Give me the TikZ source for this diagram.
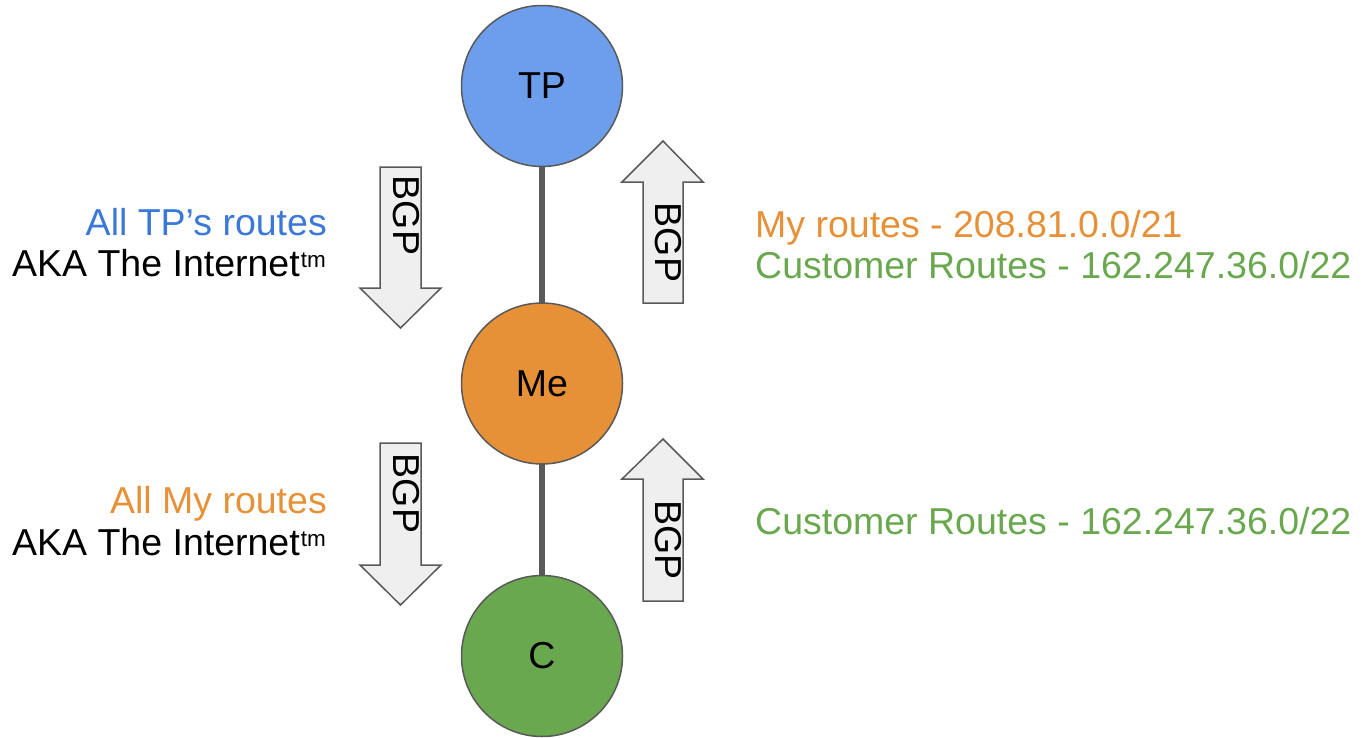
\documentclass[tikz,border=0pt]{standalone}
\usepackage{fontspec}
\setmainfont{Liberation Sans}
\definecolor{edgegray}{HTML}{595959}
\definecolor{tpblue}{HTML}{6D9EEB}
\definecolor{meorange}{HTML}{E69138}
\definecolor{cgreen}{HTML}{6AA84F}
\definecolor{txtblue}{HTML}{3C78D8}
\definecolor{arrowfill}{HTML}{EFEFEF}
\tikzset{
  big/.style={font=\fontsize{37.5}{41}\selectfont, inner sep=0pt},
  peer/.style={circle, draw=edgegray, line width=1.5pt, minimum size=161pt, inner sep=0pt, big},
  link/.style={draw=edgegray, line width=5.5pt},
  bgparrow/.style={draw=edgegray, fill=arrowfill, line width=1.5pt, line join=miter},
  bgplabel/.style={big, rotate=-90},
}
\newcommand{\tmsup}{\kern1pt\raisebox{9pt}{\fontsize{22.5}{22}\selectfont tm}}
\begin{document}
\begin{tikzpicture}[x=1pt,y=-1pt]
\useasboundingbox (0,0) rectangle (1363,737);
% links
\coordinate (tpc) at (542,86);
\coordinate (mec) at (542,383.5);
\coordinate (cc) at (542,656);
\draw[link] (tpc) -- (mec);
\draw[link] (mec) -- (cc);
% peers
\node[peer, fill=tpblue] (tp) at (tpc) {TP};
\node[peer, fill=meorange] (me) at (mec) {Me};
\node[peer, fill=cgreen] (c) at (cc) {C};
% arrows upper
\draw[bgparrow] (380,167) -- (421,167) -- (421,288) -- (441,288) -- (400.5,328) -- (360,288) -- (380,288) -- cycle;
\node[bgplabel] (bgp1) at (406,215.5) {BGP};
\draw[bgparrow] (643,303) -- (683,303) -- (683,182) -- (703,182) -- (663,141) -- (622,182) -- (643,182) -- cycle;
\node[bgplabel] (bgp2) at (668.5,242.5) {BGP};
% arrows lower
\draw[bgparrow] (380,443) -- (421,443) -- (421,565) -- (441,565) -- (400.5,605) -- (360,565) -- (380,565) -- cycle;
\node[bgplabel] (bgp3) at (406,493.5) {BGP};
\draw[bgparrow] (643,601) -- (683,601) -- (683,479) -- (703,479) -- (663,439) -- (622,479) -- (643,479) -- cycle;
\node[bgplabel] (bgp4) at (668.5,540) {BGP};
% left texts
\node[big, anchor=base east, text=txtblue] (l1) at (327,235) {All TP’s routes};
\node[big, anchor=base east] (l2) at (326,276) {AKA The Internet\tmsup};
\node[big, anchor=base east, text=meorange] (l3) at (327,513) {All My routes};
\node[big, anchor=base east] (l4) at (326,555) {AKA The Internet\tmsup};
% right texts
\node[big, anchor=base west, text=meorange] (r1) at (755,237) {My routes - 208.81.0.0/21};
\node[big, anchor=base west, text=cgreen] (r2) at (755,278) {Customer Routes - 162.247.36.0/22};
\node[big, anchor=base west, text=cgreen] (r3) at (755,534) {Customer Routes - 162.247.36.0/22};
\end{tikzpicture}
\end{document}
